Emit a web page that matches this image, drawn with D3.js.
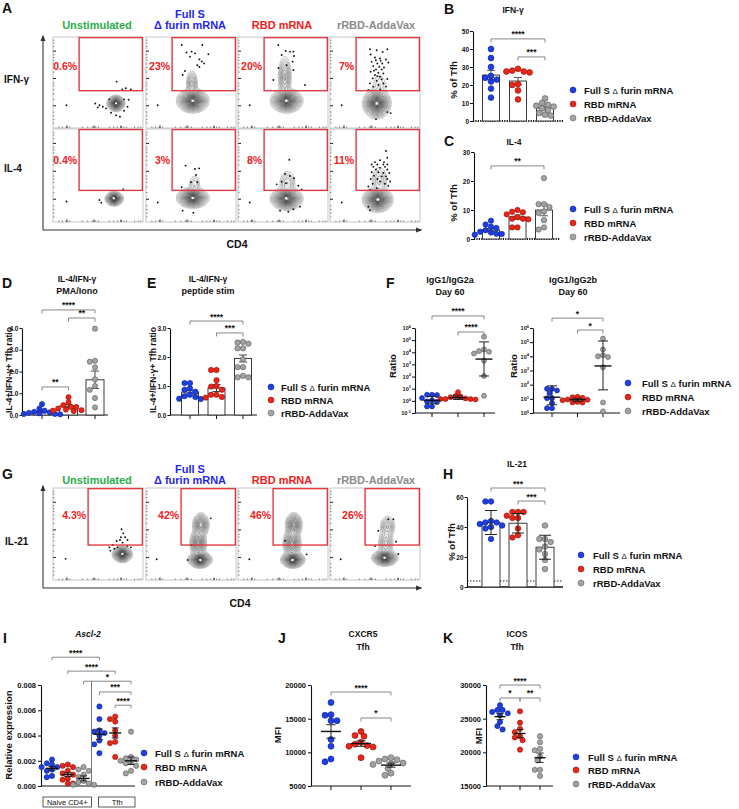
<!DOCTYPE html>
<html><head><meta charset="utf-8"><title>Tfh figure</title>
<script src="https://cdn.jsdelivr.net/npm/d3@7"></script>
<style>html,body{margin:0;padding:0;background:#fff;}</style>
</head><body>
<script>
// ================= DATA =================
const groups = ["Full S Δ furin mRNA", "RBD mRNA", "rRBD-AddaVax"];
const flowHeaders = ["Unstimulated", "Full S|Δ furin mRNA", "RBD mRNA", "rRBD-AddaVax"];
const flowHeaderColors = ["#2aae4a", "#1f27ee", "#f01c1c", "#8b8b8b"];
const groupFill = ["#1d3fe6", "#ee2417", "#a3a3a3"];
const groupStroke = ["#0b1d80", "#7d1108", "#585858"];

// A / G flow cytometry
const ifngPct = ["0.6%", "23%", "20%", "7%"];
const il4Pct = ["0.4%", "3%", "8%", "11%"];
const il21Pct = ["4.3%", "42%", "46%", "26%"];
// contour populations: [cx, cy, sx, sy, weight] in plot units 0-100
const ifngBlobs = [
  [[70,27,3.5,3.1,1]],
  [[52,30,6.3,4.7,1],[51,49,2.6,6,0.2]],
  [[54,30,6.3,4.7,1],[52,56,3,9.5,0.25]],
  [[52,27,5.5,5.9,1],[55,48,4,6,0.05]]
];
const il4Blobs = [
  [[68,25,3.5,2.7,1]],
  [[52,26,6.3,3.9,1],[54,40,3,5,0.08]],
  [[54,25,6.3,4.3,1],[55,42,4,6,0.12]],
  [[53,24,5.9,4.7,1],[55,45,4,7,0.1]]
];
const il21Blobs = [
  [[77,28,3.9,3.1,1]],
  [[60,22,4.7,3.2,1],[58,40,3.5,6,0.5],[61,60,3.5,5,0.45]],
  [[61,22,4.7,3.2,1],[60,40,3.8,6,0.5],[62,60,3.5,5,0.5]],
  [[61,24,5.1,3.1,1],[62,40,3.5,6,0.2],[64,58,3.5,5,0.18]]
];
const ifngDots = [
  [[15,25],[70.7,51],[77,42.5],[81,43.6],[86.5,42.5],[47,27],[51.6,25],[49.8,22.7],[55.3,23.4],[59,21.6],[64.5,16.8],[70,14],[74.4,12.4],[79,19],[82.8,23.4],[79,31.5],[84,31],[62.6,31.5]],
  [[13,25],[39.7,91.2],[62.6,91.2],[45,83],[50.7,83.9],[54.4,82],[59.3,75.4],[69.3,81],[64.4,71],[43.3,62.6],[40.7,58.2],[48.9,78.4],[57,69],[59.3,67],[61.9,73]],
  [[13,25],[44.8,91.2],[53,84.6],[57.8,83.9],[61.5,83.9],[62.2,79.1],[48.5,80.2],[60.7,72.9],[61.5,63.7],[39.3,52.7],[74.4,47.2],[54,69],[45,66]],
  [[13,25],[44.4,86.5],[63.7,86.5],[58.5,83.6],[45.2,80.7],[50,77.5],[55.6,76.4],[62.2,75.3],[46.3,72.7],[52.6,70.9],[58.1,70.9],[64.8,72],[48.1,68],[54.8,67.3],[51.1,64.4],[57.4,64.4],[45.2,61.8],[53.7,60.7],[59.3,60],[50,58.2],[55.6,56.4],[47.4,54.5],[57.4,53.5],[63.7,53.8],[51.9,52],[44.4,49],[59.3,49],[53.7,47.3],[48.1,45.5],[62.2,45.5],[55.6,42.5],[42.6,41.8],[51.1,9.8],[63.7,17.5],[67.4,16.4],[51.9,85.5],[56.3,73.8],[51,74.5],[60,66.5],[48.9,63],[52.6,57]]
];
const il4Dots = [
  [[15,22],[51.6,23.7],[53.5,20.8],[78,35.1]],
  [[13,21],[44,60.6],[54.4,57],[59,57.7],[55.6,50.5],[50,42.7],[57,42.7],[39.6,37.3],[40.7,12.2],[52.6,10]],
  [[13,21],[57,67],[52.2,51.6],[57.8,49.5],[62.2,47],[48.5,43.3],[53.3,41.6],[67,39],[70.7,35.1],[43,40.5],[55.9,11],[46.7,12.2],[61.5,13.7],[68.9,16.5]],
  [[13,21],[62.2,76.4],[63.7,69.1],[55.6,66.5],[60,64.4],[50,64.4],[46.3,61.8],[52.6,61.8],[59.3,61.8],[63.7,61.8],[48.1,59.3],[55.6,58.2],[61.1,59.3],[51.1,56.4],[63.7,56.4],[46.3,53.5],[53.7,53.5],[59.3,52.7],[65.9,52.7],[48.9,49.8],[57.4,49.1],[62.2,49.1],[45.2,46.2],[52.6,46.2],[63.7,46.2],[55.6,43.6],[66.7,43.6],[47.4,41.1],[61.1,41.1],[42.6,38.2],[64.8,38.9],[51.9,36.4],[44.4,34.5],[44.4,12.7],[42.6,16.4]]
];
const il21Dots = [
  [[14,23],[76.2,55.1],[78,50.7],[75.5,46.4],[80.2,46.4],[70.7,42.4],[74.4,43.5],[82.8,43.5],[77.3,40.6],[66.3,38],[62.6,35.5],[63.7,31.9],[68.1,34],[82.8,37],[86.5,35.5],[71.8,35.5]],
  [[11.9,22.5],[71.9,67],[50.7,38],[46.3,21.7]],
  [[12.6,22.5],[52.2,42.7],[76.3,27.9]],
  [[11.9,22.5],[64.8,66],[70.4,66],[53.7,53.6],[73.3,41.6],[75.9,28.3],[50,37]]
];
const flowLevels = [0.015,0.03,0.05,0.08,0.12,0.17,0.23,0.3,0.38,0.46,0.55,0.64,0.73,0.82,0.9];
const flowMajorTicks = [25, 55, 85];
const flowMinorTicks = [6,10,14,18,32,38,43,47,50,62,67,71,75,78,81,90,94,97];

// B: IFN-γ % of Tfh
const bBlue = [40, 35, 30, 25, 24, 23, 22, 18, 13];
const bRed = [29, 28, 27.5, 27, 27.5, 20, 20.5, 17, 12];
const bGray = [12.5, 10, 9, 8.5, 8, 7, 6, 4.5, 3.5, 3];
const bMean = [25.5, 22.2, 7.2];
const bErr = [2.6, 2.0, 1.0];
const bTicks = [0, 10, 20, 30, 40, 50];
// C: IL-4 % of Tfh
const cBlue = [6.3, 5, 4.2, 3.8, 3, 2.5, 2.2, 1.7, 1.5, 1.8];
const cRed = [10, 9.2, 9.4, 8.5, 7, 7, 7.5, 6.8, 4, 4];
const cGray = [21, 12, 12, 11, 9.5, 9, 6.5, 4, 3.3];
const cMean = [3.1, 7.6, 10];
const cErr = [0.5, 0.7, 2.0];
const cTicks = [0, 10, 20, 30];
// D: IL-4/IFN-γ PMA/Iono
const dBlue = [0.5, 0.3, 0.2, 0.15, 0.12, 0.1, 0.08, 0.05, 0.05, 0.03];
const dRed = [0.82, 0.58, 0.45, 0.37, 0.37, 0.3, 0.25, 0.22, 0.2, 0.18];
const dGray = [3.97, 2.49, 2.45, 2.19, 1.64, 1.33, 1.16, 0.78, 0.35];
const dMean = [0.15, 0.4, 1.62];
const dErr = [0.05, 0.07, 0.4];
const dTicks = [0, 1, 2, 3, 4];
// E: IL-4/IFN-γ peptide stim
const eBlue = [1.1, 1.1, 0.92, 0.87, 0.8, 0.7, 0.65, 0.62, 0.56, 0.55];
const eRed = [1.55, 1.55, 1.2, 1.0, 0.98, 0.87, 0.7, 0.7, 0.62, 0.6];
const eGray = [2.5, 2.46, 2.52, 2.3, 2.3, 1.92, 1.65, 1.65, 1.3, 1.3, 1.35];
const eMean = [0.79, 0.93, 1.95];
const eErr = [0.06, 0.12, 0.12];
const eTicks = [0, 1, 2, 3];
// F: IgG1/IgG2a and IgG1/IgG2b ratios (day 60)
const fA_Blue = [3.2, 3.2, 3.0, 1.7, 1.1, 0.9, 0.8, 0.35, 0.35];
const fA_Red = [5.2, 2.5, 2.3, 2.0, 1.6, 1.4, 1.4, 1.3, 1.4];
const fA_Gray = [1.9e5, 1.7e4, 1.25e4, 1.1e4, 8e3, 2e3, 112, 2.6];
const fA_Mean = [1.1, 1.8, 2750];
const fA_Lo = [0.58, 1.3, 112];
const fA_Hi = [2.3, 2.6, 7.2e4];
const fA_Ticks = [0.1, 1, 10, 100, 1e3, 1e4, 1e5, 1e6];
const fB_Blue = [51, 51, 39, 25, 11, 11, 5, 2.2, 2.2];
const fB_Red = [14, 13, 12, 9, 8.6, 8, 6, 5.6, 5.5];
const fB_Gray = [1.8e5, 3e4, 1.2e4, 1e4, 9e3, 1.7e3, 5.6, 1.3];
const fB_Mean = [13, 8.6, 2100];
const fB_Lo = [3.8, 6.5, 43];
const fB_Hi = [83, 11, 1.2e5];
const fB_Ticks = [1, 10, 100, 1e3, 1e4, 1e5, 1e6];
// H: IL-21 % of Tfh
const hBlue = [57, 57, 44, 43, 43, 42, 41, 40, 39, 32];
const hRed = [50, 50, 50, 47.5, 46, 46, 39, 34.5, 33];
const hGray = [41, 32, 32, 30, 27, 25, 22, 18, 12];
const hMean = [43, 42.5, 26.5];
const hSD = [8, 6.5, 8];
const hTicks = [0, 20, 40, 60];
const hBackground = 4;
// I: Ascl-2 relative expression
const iCategories = ["Naive · Full S", "Naive · RBD", "Naive · rRBD", "Tfh · Full S", "Tfh · RBD", "Tfh · rRBD"];
const iNaiveBlue = [0.0021, 0.0018, 0.0017, 0.0015, 0.0015, 0.0013, 0.0012, 0.0008, 0.0007];
const iNaiveRed = [0.0017, 0.0016, 0.0015, 0.0012, 0.0010, 0.0009, 0.0006, 0.0005, 0.0002, 0.0002];
const iNaiveGray = [0.0015, 0.0013, 0.0012, 0.0009, 0.0007, 0.0004, 0.0003, 0.0002, 0.0001, 0.0001];
const iTfhBlue = [0.0063, 0.0053, 0.0044, 0.0043, 0.0042, 0.0040, 0.0036, 0.0033, 0.0026];
const iTfhRed = [0.0055, 0.0053, 0.0051, 0.0044, 0.0040, 0.0035, 0.0034, 0.0023];
const iTfhGray = [0.0043, 0.0023, 0.0022, 0.0021, 0.0020, 0.0019, 0.0018, 0.0016, 0.0012, 0.0010];
const iMean = [0.0014, 0.0009, 0.0006, 0.0041, 0.0042, 0.0020];
const iErr = [0.00015, 0.00015, 0.0002, 0.0004, 0.0004, 0.0003];
const iTicks = [0, 0.002, 0.004, 0.006, 0.008];
// J: CXCR5 MFI
const jBlue = [17400, 15500, 15600, 14700, 14700, 11900, 10900, 9000, 8600];
const jRed = [13100, 12500, 12400, 11500, 11200, 11000, 10900, 10800, 9200];
const jGray = [9200, 9000, 8900, 8700, 8400, 8300, 8200, 7600, 6900, 6600];
const jMean = [13100, 11300, 8100];
const jErr = [1000, 400, 300];
const jTicks = [5000, 10000, 15000, 20000];
// K: ICOS MFI
const kBlue = [27000, 26300, 26300, 26000, 25800, 25500, 24500, 23900, 23400];
const kRed = [26100, 24400, 23500, 23000, 22400, 22200, 21800, 20400];
const kGray = [22400, 21500, 20500, 20300, 19400, 18800, 17400, 17400, 16500];
const kMean = [25300, 22800, 19200];
const kErr = [450, 600, 700];
const kTicks = [15000, 20000, 25000, 30000];

// significance brackets: [group i, group j, y value, label]
const bSig = [[0,2,45.6,"****"],[1,2,35.6,"***"]];
const cSig = [[0,2,25.2,"**"]];
const dSig = [[0,2,4.83,"****"],[1,2,4.46,"**"],[0,1,1.29,"**"]];
const eSig = [[0,2,3.24,"****"],[1,2,2.83,"***"]];
const fASig = [[0,2,9.8e6,"****"],[1,2,4.7e5,"****"]];
const fBSig = [[0,2,5e6,"*"],[1,2,7.2e5,"*"]];
const hSig = [[0,2,66,"***"],[1,2,57.3,"***"]];
const iSig = [[0,3,0.0102,"****"],[1,4,0.0091,"****"],[2,5,0.0083,"*"],[3,5,0.00745,"***"],[4,5,0.0064,"****"]];
const jSig = [[0,2,18960,"****"],[1,2,15100,"*"]];
const kSig = [[0,2,30000,"****"],[0,1,28070,"*"],[1,2,28070,"**"]];

// ================= DRAWING =================
const FONT = "'Liberation Sans', Arial, Helvetica, sans-serif";
const svg = d3.select("body").append("svg").attr("width", 739).attr("height", 809)
  .attr("font-family", FONT).style("background", "#fff");

svg.append("defs").append("marker").attr("id", "arr").attr("viewBox", "0 0 10 10")
  .attr("refX", 8).attr("refY", 5).attr("markerWidth", 6).attr("markerHeight", 6)
  .attr("orient", "auto").append("path").attr("d", "M0,1L10,5L0,9z").attr("fill", "#333");

function T(x, y, s, o = {}) {
  const t = svg.append("text").attr("x", x).attr("y", y).text(s)
    .attr("font-size", o.size || 10).attr("font-weight", o.weight || "bold")
    .attr("fill", o.fill || "#111").attr("text-anchor", o.anchor || "start");
  if (o.italic) t.attr("font-style", "italic");
  if (o.rotate != null) t.attr("transform", `rotate(${o.rotate},${x},${y})`);
  return t;
}

// panel letters
[["A",2,13],["B",444,14],["C",444,146],["D",2,288],["E",147,288],["F",386,288],
 ["G",2,479],["H",443,479],["I",3,643],["J",278,643],["K",443,643]]
  .forEach(([l,x,y]) => T(x, y, l, {size: 14}));

// ---------- flow cytometry rows ----------
const boxX = [53, 146, 238, 330], boxW = 90;

function flowHeaderRow(yTop, yBot) {
  const cx = [97, 190, 282, 376];
  flowHeaders.forEach((h, i) => {
    const parts = h.split("|");
    if (parts.length === 2) {
      T(cx[i], yTop, parts[0], {size: 11, fill: flowHeaderColors[i], anchor: "middle"});
      T(cx[i], yBot, parts[1], {size: 11, fill: flowHeaderColors[i], anchor: "middle"});
    } else T(cx[i], yBot, parts[0], {size: 11, fill: flowHeaderColors[i], anchor: "middle"});
  });
}

function flowRow(top, h, blobs, dots, pcts, gateX, gateYb, pctY) {
  boxX.forEach((x0, i) => {
    const g = svg.append("g");
    const xs = d3.scaleLinear().domain([0, 100]).range([x0, x0 + boxW]);
    const ys = d3.scaleLinear().domain([0, 100]).range([top + h, top]);
    g.append("rect").attr("x", x0).attr("y", top).attr("width", boxW).attr("height", h)
      .attr("fill", "none").attr("stroke", "#b8b8b8").attr("stroke-width", 0.8);
    const lmin = g.append("g").attr("transform", `translate(${x0},0)`)
      .call(d3.axisRight(ys).tickValues(flowMinorTicks).tickSize(1.5).tickFormat(""));
    lmin.select(".domain").remove(); lmin.selectAll("line").attr("stroke", "#888");
    const lmaj = g.append("g").attr("transform", `translate(${x0},0)`)
      .call(d3.axisRight(ys).tickValues(flowMajorTicks).tickSize(3).tickFormat(""));
    lmaj.select(".domain").remove(); lmaj.selectAll("line").attr("stroke", "#333").attr("stroke-width", 1.1);
    const bmin = g.append("g").attr("transform", `translate(0,${top + h})`)
      .call(d3.axisTop(xs).tickValues(flowMinorTicks).tickSize(1.5).tickFormat(""));
    bmin.select(".domain").remove(); bmin.selectAll("line").attr("stroke", "#888");
    const bmaj = g.append("g").attr("transform", `translate(0,${top + h})`)
      .call(d3.axisTop(xs).tickValues([15, 45, 75]).tickSize(2.5).tickFormat(""));
    bmaj.select(".domain").remove(); bmaj.selectAll("line").attr("stroke", "#333").attr("stroke-width", 1.1);

    const n = 72;
    const grid = new Float64Array(n * n);
    for (let j = 0; j < n; j++) for (let k = 0; k < n; k++) {
      const xd = (k + 0.5) / n * 100, yd = 100 - (j + 0.5) / n * 100;
      let v = 0;
      blobs[i].forEach(([cx, cy, sx, sy, w]) => {
        v += w * Math.exp(-((xd - cx) ** 2 / (2 * sx * sx) + (yd - cy) ** 2 / (2 * sy * sy)));
      });
      grid[j * n + k] = v;
    }
    const mx = d3.max(grid);
    const cs = d3.contours().size([n, n]).thresholds(flowLevels.map(l => l * mx))(grid);
    const proj = d3.geoTransform({point(px, py) { this.stream.point(x0 + px / n * boxW, top + py / n * h); }});
    const path = d3.geoPath(proj);
    g.selectAll(null).data(cs).join("path").attr("d", path)
      .attr("fill", "#4a4a4a").attr("fill-opacity", 0.035)
      .attr("stroke", (d, k) => d3.interpolateRgb("#a8a8a8", "#2e2e2e")(k / (cs.length - 1)))
      .attr("stroke-width", 0.75);
    const peak = d3.maxIndex(grid);
    g.append("circle").attr("cx", x0 + ((peak % n) + 0.5) / n * boxW)
      .attr("cy", top + (Math.floor(peak / n) + 0.5) / n * h).attr("r", 1.1).attr("fill", "#fff");
    g.selectAll(null).data(dots[i]).join("circle").attr("cx", d => xs(d[0])).attr("cy", d => ys(d[1]))
      .attr("r", 0.95).attr("fill", "#111");
    g.append("rect").attr("x", xs(gateX)).attr("y", ys(100) + 0.6)
      .attr("width", xs(99.3) - xs(gateX)).attr("height", ys(gateYb) - ys(100) - 0.6)
      .attr("fill", "none").attr("stroke", "#e03a40").attr("stroke-width", 1.4);
    T(xs(gateX) - 2, ys(pctY), pcts[i], {size: 10.5, fill: "#f0201c", anchor: "end"});
  });
}

// A
flowHeaderRow(18, 29);
flowRow(37, 91, ifngBlobs, ifngDots, ifngPct, 29, 41, 64);
flowRow(129, 93, il4Blobs, il4Dots, il4Pct, 29, 34, 62);
T(4, 83, "IFN-γ", {size: 10});
T(4, 172, "IL-4", {size: 10});
svg.append("line").attr("x1", 43).attr("y1", 230).attr("x2", 43).attr("y2", 36)
  .attr("stroke", "#333").attr("stroke-width", 1.1).attr("marker-end", "url(#arr)");
svg.append("line").attr("x1", 43).attr("y1", 230).attr("x2", 421).attr("y2", 230)
  .attr("stroke", "#333").attr("stroke-width", 1.1).attr("marker-end", "url(#arr)");
T(237, 248, "CD4", {size: 10.5, anchor: "middle"});

// G
flowHeaderRow(473, 484);
flowRow(488, 92, il21Blobs, il21Dots, il21Pct, 39, 38, 66);
T(5, 545, "IL-21", {size: 10});
svg.append("line").attr("x1", 43).attr("y1", 588).attr("x2", 43).attr("y2", 486)
  .attr("stroke", "#333").attr("stroke-width", 1.1).attr("marker-end", "url(#arr)");
svg.append("line").attr("x1", 43).attr("y1", 588).attr("x2", 421).attr("y2", 588)
  .attr("stroke", "#333").attr("stroke-width", 1.1).attr("marker-end", "url(#arr)");
T(240, 607, "CD4", {size: 10.5, anchor: "middle"});

// ---------- generic chart helpers ----------
function swarm(vals, cx, y, r) {
  const pts = vals.map(v => ({v, y: y(v)})).sort((a, b) => a.y - b.y);
  const placed = [];
  const step = r * 1.0, minD = 2 * r * 0.92;
  pts.forEach(p => {
    for (let k = 0; k < 60; k++) {
      const off = k === 0 ? 0 : (k % 2 ? -1 : 1) * Math.ceil(k / 2) * step;
      const x = cx + off;
      if (placed.every(q => (q.x - x) ** 2 + (q.y - p.y) ** 2 >= minD * minD)) { p.x = x; break; }
    }
    placed.push(p);
  });
  return placed;
}

function errBar(g, cx, y1, y2, cap, color, w) {
  g.append("line").attr("x1", cx).attr("x2", cx).attr("y1", y1).attr("y2", y2).attr("stroke", color).attr("stroke-width", w);
  [y1, y2].forEach(yy => g.append("line").attr("x1", cx - cap / 2).attr("x2", cx + cap / 2)
    .attr("y1", yy).attr("y2", yy).attr("stroke", color).attr("stroke-width", w));
}

function sig(g, x, y, list, leg) {
  list.forEach(([a, b, v, lab]) => {
    const x1 = x(x.domain()[a]), x2 = x(x.domain()[b]), yy = y(v);
    g.append("path").attr("d", `M${x1},${yy + leg}V${yy}H${x2}V${yy + leg}`)
      .attr("fill", "none").attr("stroke", "#7a7a7a").attr("stroke-width", 0.9);
    g.append("text").attr("x", (x1 + x2) / 2).attr("y", yy - 1.5).attr("text-anchor", "middle")
      .attr("font-size", 8.5).attr("font-weight", "bold").attr("fill", "#111").text(lab);
  });
}

function chart(o) {
  const g = svg.append("g");
  const ax = d3.axisLeft(o.y).tickValues(o.ticks).tickSize(o.tickSize || 3).tickSizeOuter(0)
    .tickPadding(o.tickPad != null ? o.tickPad : 2);
  if (o.fmt) ax.tickFormat(o.fmt);
  const ya = g.append("g").attr("transform", `translate(${o.axisX},0)`).call(ax);
  ya.select(".domain").attr("stroke", "#111").attr("stroke-width", 1.1);
  ya.selectAll(".tick line").attr("stroke", "#111").attr("stroke-width", 1);
  ya.selectAll(".tick text").attr("font-family", FONT).attr("font-weight", "bold")
    .attr("font-size", o.tickFont).attr("fill", "#111");
  if (o.log) {
    ya.selectAll(".tick text").each(function (d) {
      const e = Math.round(Math.log10(d));
      const t = d3.select(this).text("");
      t.append("tspan").text("10");
      t.append("tspan").attr("dy", -2.5).attr("font-size", o.tickFont * 0.75).text(e);
    });
  }
  const base = o.y.range()[0];
  const xl = g.append("line").attr("x1", o.axisX).attr("x2", o.xEnd).attr("y1", base).attr("y2", base)
    .attr("stroke", "#111").attr("stroke-width", o.xw || 1.1);
  if (o.dotted) xl.attr("stroke-dasharray", "1.2,1.2").attr("stroke-width", 1.8);
  const cats = o.x.domain();
  if (o.xTicks) cats.forEach(c => g.append("line").attr("x1", o.x(c)).attr("x2", o.x(c))
    .attr("y1", base).attr("y2", base + 4).attr("stroke", "#111").attr("stroke-width", 1));
  if (o.bg != null) g.append("line").attr("x1", o.axisX).attr("x2", o.xEnd)
    .attr("y1", o.y(o.bg)).attr("y2", o.y(o.bg)).attr("stroke", "#222").attr("stroke-width", 1)
    .attr("stroke-dasharray", "1.5,1.5");
  if (o.bars) cats.forEach((c, i) => g.append("rect").attr("x", o.x(c) - o.bw / 2).attr("y", o.y(o.means[i]))
    .attr("width", o.bw).attr("height", base - o.y(o.means[i])).attr("fill", "#fff")
    .attr("stroke", "#3a3a3a").attr("stroke-width", 1));
  const drawErr = () => cats.forEach((c, i) => {
    errBar(g, o.x(c), o.y(o.hi[i]), o.y(o.lo[i]), o.cap, o.errColor || "#222", o.errW || 1);
    if (o.meanW) g.append("line").attr("x1", o.x(c) - o.meanW / 2).attr("x2", o.x(c) + o.meanW / 2)
      .attr("y1", o.y(o.means[i])).attr("y2", o.y(o.means[i])).attr("stroke", "#111").attr("stroke-width", 1.4);
  });
  if (!o.errOnTop) drawErr();
  cats.forEach((c, i) => {
    const ci = o.colorIdx ? o.colorIdx[i] : i;
    const pts = swarm(o.series[i], o.x(c), o.y, o.r);
    g.selectAll(null).data(pts).join("circle").attr("cx", d => d.x).attr("cy", d => d.y).attr("r", o.r)
      .attr("fill", groupFill[ci]).attr("stroke", groupStroke[ci]).attr("stroke-width", 0.6);
  });
  if (o.errOnTop) drawErr();
  sig(g, o.x, o.y, o.sig, o.leg || 3.5);
  if (o.ylab) T(o.ylab[1], o.ylab[2], o.ylab[0], {size: o.ylabSize || 9.5, rotate: -90, anchor: "middle"});
  return g;
}

function legend(x, ys, tx) {
  groups.forEach((gname, i) => {
    svg.append("circle").attr("cx", x).attr("cy", ys[i]).attr("r", 3).attr("fill", groupFill[i])
      .attr("stroke", groupStroke[i]).attr("stroke-width", 0.5);
    const t = svg.append("text").attr("x", tx).attr("y", ys[i] + 3.5).attr("font-size", 9.5)
      .attr("font-weight", "bold").attr("fill", "#111");
    const parts = gname.split("Δ");
    if (parts.length === 2) {
      t.append("tspan").text(parts[0]);
      t.append("tspan").attr("font-weight", "normal").attr("font-size", 8).text("Δ");
      t.append("tspan").text(parts[1]);
    } else t.text(gname);
  });
}

const pm = (m, e, s) => m.map((v, i) => v + s * e[i]);

// B
T(513, 13, "IFN-γ", {size: 8.5, anchor: "middle"});
chart({x: d3.scalePoint().domain(groups).range([491, 545]), y: d3.scaleLinear().domain([0, 50]).range([121, 31]),
  axisX: 473, xEnd: 563, ticks: bTicks, tickFont: 6.5, tickPad: 1, dotted: true, bars: true, bw: 17,
  means: bMean, lo: pm(bMean, bErr, -1), hi: pm(bMean, bErr, 1), cap: 8, errColor: "#555",
  series: [bBlue, bRed, bGray], r: 2.9, sig: bSig, ylab: ["% of Tfh", 457, 80]});
legend(573, [90, 104, 118], 584);

// C
T(514, 145, "IL-4", {size: 8.5, anchor: "middle"});
chart({x: d3.scalePoint().domain(groups).range([491, 544]), y: d3.scaleLinear().domain([0, 30]).range([239, 152]),
  axisX: 474, xEnd: 560, ticks: cTicks, tickFont: 6.5, tickPad: 1, dotted: true, bars: true, bw: 17,
  means: cMean, lo: pm(cMean, cErr, -1), hi: pm(cMean, cErr, 1), cap: 8, errColor: "#555",
  series: [cBlue, cRed, cGray], r: 2.7, sig: cSig, ylab: ["% of Tfh", 457, 203]});
legend(573, [209, 223, 237], 584);

// D
T(77, 282, "IL-4/IFN-γ", {size: 8.5, anchor: "middle"});
T(77, 294, "PMA/Iono", {size: 9, anchor: "middle"});
chart({x: d3.scalePoint().domain(groups).range([42, 95]), y: d3.scaleLinear().domain([0, 4]).range([415, 328]),
  axisX: 22, xEnd: 108, ticks: dTicks, tickFont: 6.5, tickSize: 2.5, tickPad: 1, xTicks: true, bars: true, bw: 18,
  means: dMean, lo: pm(dMean, dErr, -1), hi: pm(dMean, dErr, 1), cap: 8, errColor: "#444",
  series: [dBlue, dRed, dGray], r: 2.6, sig: dSig, ylab: ["IL-4+/IFN-γ+ Tfh ratio", 12, 370], ylabSize: 8.6});

// E
T(208, 282, "IL-4/IFN-γ", {size: 8.5, anchor: "middle"});
T(208, 294, "peptide stim", {size: 9, anchor: "middle"});
chart({x: d3.scalePoint().domain(groups).range([190, 243]), y: d3.scaleLinear().domain([0, 3]).range([415, 328]),
  axisX: 170, xEnd: 257, ticks: eTicks, tickFont: 6.5, tickSize: 2.5, tickPad: 1, xTicks: true, bars: true, bw: 17,
  means: eMean, lo: pm(eMean, eErr, -1), hi: pm(eMean, eErr, 1), cap: 8, errColor: "#444",
  series: [eBlue, eRed, eGray], r: 2.7, sig: eSig, ylab: ["IL-4+/IFN-γ+ Tfh ratio", 156, 370], ylabSize: 8.6});
legend(271, [387, 400, 413], 281);

// F
T(450, 283, "IgG1/IgG2a", {size: 9, anchor: "middle"});
T(450, 295, "Day 60", {size: 9, anchor: "middle"});
chart({x: d3.scalePoint().domain(groups).range([432, 484]), y: d3.scaleLog().domain([0.1, 1e6]).range([413, 328]),
  axisX: 415, xEnd: 495, ticks: fA_Ticks, tickFont: 5.5, tickPad: 1, log: true, xTicks: true,
  means: fA_Mean, lo: fA_Lo, hi: fA_Hi, cap: 10, meanW: 17, errOnTop: true,
  series: [fA_Blue, fA_Red, fA_Gray], r: 2.5, sig: fASig, ylab: ["Ratio", 396, 366]});
T(573, 283, "IgG1/IgG2b", {size: 9, anchor: "middle"});
T(573, 295, "Day 60", {size: 9, anchor: "middle"});
chart({x: d3.scalePoint().domain(groups).range([552, 603]), y: d3.scaleLog().domain([1, 1e6]).range([413, 328]),
  axisX: 533, xEnd: 620, ticks: fB_Ticks, tickFont: 5.5, tickPad: 1, log: true, xTicks: true,
  means: fB_Mean, lo: fB_Lo, hi: fB_Hi, cap: 10, meanW: 17, errOnTop: true,
  series: [fB_Blue, fB_Red, fB_Gray], r: 2.5, sig: fBSig, ylab: ["Ratio", 517, 366]});
legend(628, [383, 397, 411], 642);

// H
T(517, 467, "IL-21", {size: 8.5, anchor: "middle"});
chart({x: d3.scalePoint().domain(groups).range([491, 545]), y: d3.scaleLinear().domain([0, 60]).range([587, 497]),
  axisX: 467, xEnd: 563, ticks: hTicks, tickFont: 6.5, tickSize: 2.5, tickPad: 1, xw: 1.5, bars: true, bw: 18, bg: hBackground,
  means: hMean, lo: pm(hMean, hSD, -1), hi: pm(hMean, hSD, 1), cap: 12, errOnTop: true,
  series: [hBlue, hRed, hGray], r: 2.8, sig: hSig, ylab: ["% of Tfh", 455, 542]});
legend(581, [555, 569, 583], 593);

// I
T(88, 637, "Ascl-2", {size: 8.5, anchor: "middle", italic: true});
const xI = d3.scalePoint().domain(iCategories).range([52, 131]);
const yI = d3.scaleLinear().domain([0, 0.008]).range([786, 685]);
chart({x: xI, y: yI, axisX: 41, xEnd: 135, ticks: iTicks, fmt: d3.format(".3f"), tickFont: 7.5,
  means: iMean, lo: pm(iMean, iErr, -1), hi: pm(iMean, iErr, 1), cap: 7, meanW: 12, errOnTop: true,
  colorIdx: [0, 1, 2, 0, 1, 2],
  series: [iNaiveBlue, iNaiveRed, iNaiveGray, iTfhBlue, iTfhRed, iTfhGray], r: 2.6, sig: iSig, leg: 3,
  ylab: ["Relative expression", 12, 735]});
{
  const sepX = (xI(iCategories[2]) + xI(iCategories[3])) / 2;
  svg.append("line").attr("x1", sepX).attr("x2", sepX).attr("y1", yI(0.0083)).attr("y2", yI(0))
    .attr("stroke", "#777").attr("stroke-width", 1);
  svg.append("rect").attr("x", 43).attr("y", 797).attr("width", sepX - 43).attr("height", 10)
    .attr("fill", "#fff").attr("stroke", "#333").attr("stroke-width", 0.8);
  svg.append("rect").attr("x", xI(iCategories[3]) - 1).attr("y", 797).attr("width", 135 - xI(iCategories[3]) + 1).attr("height", 10)
    .attr("fill", "#fff").attr("stroke", "#333").attr("stroke-width", 0.8);
  T((43 + sepX) / 2, 805, "Naive CD4+", {size: 7.5, weight: "normal", anchor: "middle"});
  T((xI(iCategories[3]) + 135) / 2, 805, "Tfh", {size: 7.5, weight: "normal", anchor: "middle"});
}
legend(144, [753, 767, 782], 155);

// J
T(363, 637, "CXCR5", {size: 8.5, anchor: "middle"});
T(363, 650, "Tfh", {size: 8.5, anchor: "middle"});
chart({x: d3.scalePoint().domain(groups).range([331, 391]), y: d3.scaleLinear().domain([5000, 20000]).range([786, 685]),
  axisX: 311, xEnd: 411, ticks: jTicks, fmt: d3.format("d"), tickFont: 7.5, xTicks: true,
  means: jMean, lo: pm(jMean, jErr, -1), hi: pm(jMean, jErr, 1), cap: 9, meanW: 20, errOnTop: true,
  series: [jBlue, jRed, jGray], r: 3.0, sig: jSig, ylab: ["MFI", 281, 735]});

// K
T(517, 637, "ICOS", {size: 8.5, anchor: "middle"});
T(517, 650, "Tfh", {size: 8.5, anchor: "middle"});
chart({x: d3.scalePoint().domain(groups).range([500, 540]), y: d3.scaleLinear().domain([15000, 30000]).range([786, 685]),
  axisX: 486, xEnd: 553, ticks: kTicks, fmt: d3.format("d"), tickFont: 7.5, xTicks: true,
  means: kMean, lo: pm(kMean, kErr, -1), hi: pm(kMean, kErr, 1), cap: 7, meanW: 11, errOnTop: true,
  series: [kBlue, kRed, kGray], r: 2.6, sig: kSig, ylab: ["MFI", 482, 736]});
legend(576, [757, 770, 784], 588);
</script>
</body></html>
